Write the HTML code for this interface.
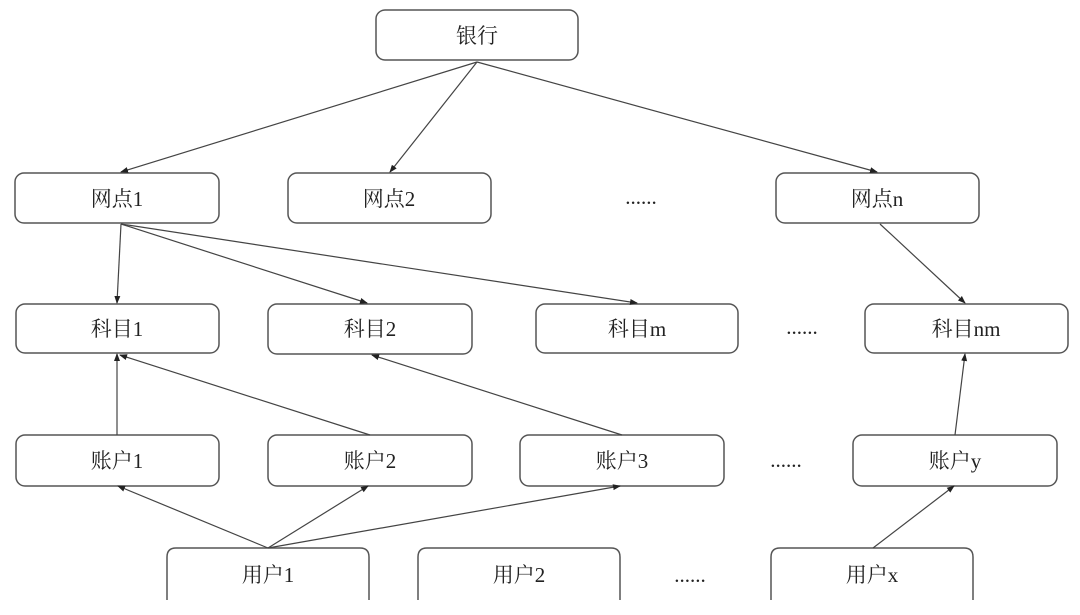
<!DOCTYPE html>
<html><head><meta charset="utf-8"><style>
html,body{margin:0;padding:0;background:#fff;}
svg{display:block;}
text{font-family:"Liberation Serif","Noto Serif CJK SC",serif;font-size:21px;fill:#222;text-anchor:middle;dominant-baseline:central;}
.b{fill:#fff;stroke:#555;stroke-width:1.5;}
.l{stroke:#444;stroke-width:1.2;fill:none;marker-end:url(#a);}
</style></head><body>
<svg width="1080" height="615" viewBox="0 0 1080 615">
<defs><marker id="a" markerWidth="8" markerHeight="8" refX="7" refY="4" orient="auto" markerUnits="userSpaceOnUse"><path d="M0,1 L8,4 L0,7 z" fill="#222"/></marker></defs>
<rect class="b" x="376" y="10" width="202" height="50" rx="9"/><text x="477" y="36">银行</text>
<rect class="b" x="15" y="173" width="204" height="50" rx="9"/><text x="117" y="199">网点1</text>
<rect class="b" x="288" y="173" width="203" height="50" rx="9"/><text x="389" y="199">网点2</text>
<text x="641" y="197">......</text>
<rect class="b" x="776" y="173" width="203" height="50" rx="9"/><text x="877" y="199">网点n</text>
<rect class="b" x="16" y="304" width="203" height="49" rx="9"/><text x="117" y="329">科目1</text>
<rect class="b" x="268" y="304" width="204" height="50" rx="9"/><text x="370" y="329">科目2</text>
<rect class="b" x="536" y="304" width="202" height="49" rx="9"/><text x="637" y="329">科目m</text>
<text x="802" y="327">......</text>
<rect class="b" x="865" y="304" width="203" height="49" rx="9"/><text x="966" y="329">科目nm</text>
<rect class="b" x="16" y="435" width="203" height="51" rx="9"/><text x="117" y="461">账户1</text>
<rect class="b" x="268" y="435" width="204" height="51" rx="9"/><text x="370" y="461">账户2</text>
<rect class="b" x="520" y="435" width="204" height="51" rx="9"/><text x="622" y="461">账户3</text>
<text x="786" y="460">......</text>
<rect class="b" x="853" y="435" width="204" height="51" rx="9"/><text x="955" y="461">账户y</text>
<path class="b" d="M167,600 L167,557 Q167,548 176,548 L360,548 Q369,548 369,557 L369,600" style="fill:none"/><text x="268" y="575">用户1</text>
<path class="b" d="M418,600 L418,557 Q418,548 427,548 L611,548 Q620,548 620,557 L620,600" style="fill:none"/><text x="519" y="575">用户2</text>
<text x="690" y="575">......</text>
<path class="b" d="M771,600 L771,557 Q771,548 780,548 L964,548 Q973,548 973,557 L973,600" style="fill:none"/><text x="872" y="575">用户x</text>
<line class="l" x1="477" y1="62" x2="121" y2="172"/>
<line class="l" x1="477" y1="62" x2="390" y2="172"/>
<line class="l" x1="477" y1="62" x2="877" y2="172"/>
<line class="l" x1="121" y1="224" x2="117" y2="303"/>
<line class="l" x1="121" y1="224" x2="367" y2="303"/>
<line class="l" x1="121" y1="224" x2="637" y2="303"/>
<line class="l" x1="880" y1="224" x2="965" y2="303"/>
<line class="l" x1="117" y1="435" x2="117" y2="354"/>
<line class="l" x1="370" y1="435" x2="120" y2="355"/>
<line class="l" x1="622" y1="435" x2="372" y2="355"/>
<line class="l" x1="955" y1="435" x2="965" y2="354"/>
<line class="l" x1="268" y1="548" x2="118" y2="486"/>
<line class="l" x1="268" y1="548" x2="368" y2="486"/>
<line class="l" x1="268" y1="548" x2="620" y2="486"/>
<line class="l" x1="873" y1="548" x2="954" y2="486"/>
</svg>
</body></html>
